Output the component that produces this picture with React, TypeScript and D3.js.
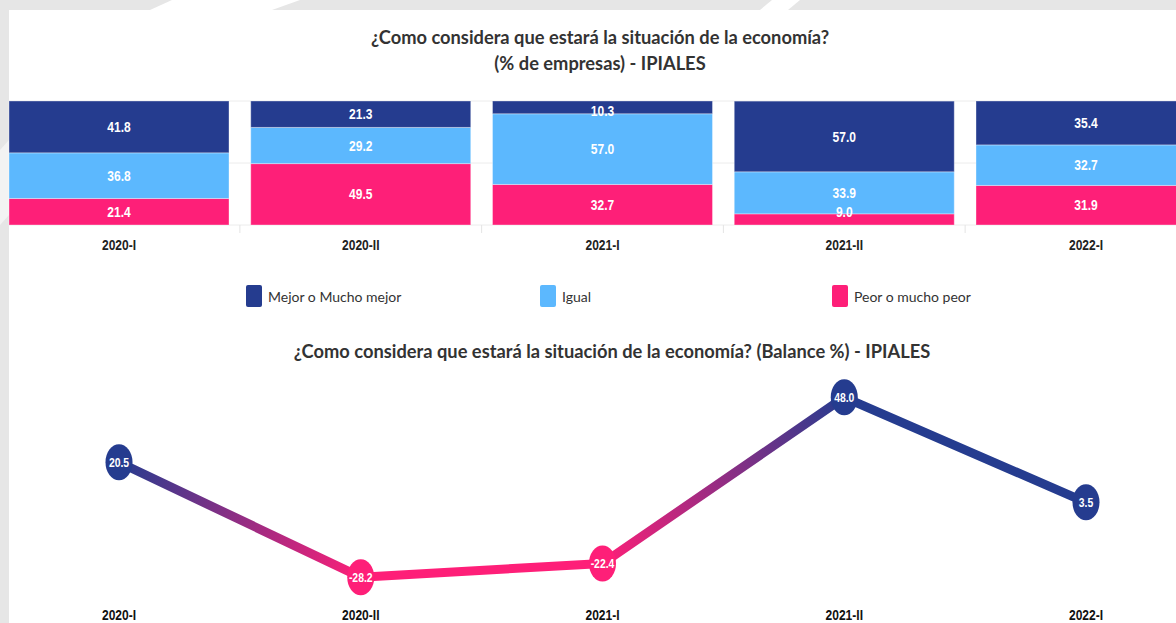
import React from "react";
import * as d3 from "d3";

const categories = ["2020-I", "2020-II", "2021-I", "2021-II", "2022-I"];
const mejor = [41.8, 21.3, 10.3, 57.0, 35.4];
const igual = [36.8, 29.2, 57.0, 33.9, 32.7];
const peor = [21.4, 49.5, 32.7, 9.0, 31.9];
const balance = [20.5, -28.2, -22.4, 48.0, 3.5];
const seriesNames = ["Mejor o Mucho mejor", "Igual", "Peor o mucho peor"];

const W = 1176;
const H = 623;
const C_DARK = "#253c8f";
const C_LIGHT = "#5cb8fe";
const C_PINK = "#fe1f78";
const NUM_FONT = "'Liberation Sans', Arial, sans-serif";
const TITLE_FONT = "Lato, 'Open Sans', sans-serif";

function NarrowText(props: {
  x: number;
  y: number;
  size: number;
  sx: number;
  fill: string;
  children: React.ReactNode;
}) {
  return (
    <text
      transform={`translate(${props.x},${props.y}) scale(${props.sx},1)`}
      dy="0.36em"
      textAnchor="middle"
      fontFamily={NUM_FONT}
      fontSize={props.size}
      fontWeight={700}
      fill={props.fill}
    >
      {props.children}
    </text>
  );
}

export default function App() {
  const x = d3
    .scaleBand<string>()
    .domain(categories)
    .range([9, 1196])
    .paddingInner(0.09)
    .paddingOuter(0);
  const bw = x.bandwidth();
  const cx = (c: string) => (x(c) as number) + bw / 2;

  const yBar = d3.scaleLinear().domain([0, 100]).range([225, 101]);

  const table = categories.map((c, i) => ({ cat: c, peor: peor[i], igual: igual[i], mejor: mejor[i] }));
  const keys = ["peor", "igual", "mejor"];
  const colors: Record<string, string> = { mejor: C_DARK, igual: C_LIGHT, peor: C_PINK };
  const stacked = d3.stack<any>().keys(keys)(table);

  const yLine = d3.scaleLinear().domain([-40, 60]).range([605, 369]);
  const pts = categories.map((c, i) => ({ x: cx(c), y: yLine(balance[i]), v: balance[i] }));
  const ptColor = (v: number) => (v >= 0 ? C_DARK : C_PINK);
  const fmt0 = d3.format(".1f");
  const fmt = (v: number) => fmt0(v).replace("\u2212", "-");

  const legendItems = [
    { name: seriesNames[0], color: C_DARK, x: 246 },
    { name: seriesNames[1], color: C_LIGHT, x: 540 },
    { name: seriesNames[2], color: C_PINK, x: 832 },
  ];

  const gapTicks = categories.slice(1).map((c) => (x(c) as number) - (x.step() - bw) / 2);

  return (
    <svg
      width={W}
      height={H}
      style={{ position: "absolute", left: 0, top: 0, display: "block" }}
    >
      <defs>
        {pts.slice(0, -1).map((p, i) => {
          const q = pts[i + 1];
          return (
            <linearGradient
              key={i}
              id={`seg${i}`}
              gradientUnits="userSpaceOnUse"
              x1={p.x}
              y1={p.y}
              x2={q.x}
              y2={q.y}
            >
              <stop offset="0" stopColor={ptColor(p.v)} />
              <stop offset="1" stopColor={ptColor(q.v)} />
            </linearGradient>
          );
        })}
      </defs>
      {/* background */}
      <rect x={0} y={0} width={W} height={H} fill="#e6e6e6" />
      <polygon points="150,10 172,0 300,0 272,10" fill="#ffffff" />
      <polygon points="760,10 772,0 800,0 788,10" fill="#ffffff" />
      <polygon points="0,150 9,140 9,215 0,225" fill="#f3f3f3" />
      <rect x={9} y={10} width={W - 9} height={H - 10} fill="#ffffff" />

      {/* title 1 */}
      <text x={600} y={44} textAnchor="middle" fontFamily={TITLE_FONT} fontSize={18.3} fontWeight={700} fill="#333">
        ¿Como considera que estará la situación de la economía?
      </text>
      <text x={600} y={70} textAnchor="middle" fontFamily={TITLE_FONT} fontSize={18.3} fontWeight={700} fill="#333">
        (% de empresas) - IPIALES
      </text>

      {/* grid */}
      {[0, 50, 100].map((t) => (
        <line key={t} x1={9} x2={W} y1={yBar(t)} y2={yBar(t)} stroke="#ececec" strokeWidth={1} />
      ))}
      {gapTicks.map((gx, i) => (
        <line key={i} x1={gx} x2={gx} y1={225} y2={233} stroke="#e4e4e4" strokeWidth={1} />
      ))}

      {/* bars */}
      {stacked.map((layer) => (
        <g key={layer.key}>
          {layer.map((d: any, i: number) => (
            <rect
              key={i}
              x={x(categories[i])}
              y={yBar(d[1])}
              width={bw}
              height={yBar(d[0]) - yBar(d[1])}
              fill={colors[layer.key]}
              stroke="rgba(255,255,255,0.35)"
              strokeWidth={1}
            />
          ))}
        </g>
      ))}
      {stacked.map((layer) => (
        <g key={"l" + layer.key}>
          {layer.map((d: any, i: number) => {
            const mid = (yBar(d[0]) + yBar(d[1])) / 2;
            const yy = Math.max(111, Math.min(212, mid));
            return (
              <NarrowText key={i} x={cx(categories[i])} y={yy} size={14} sx={0.86} fill="#ffffff">
                {fmt(d[1] - d[0])}
              </NarrowText>
            );
          })}
        </g>
      ))}
      {categories.map((c) => (
        <NarrowText key={c} x={cx(c)} y={245} size={14} sx={0.86} fill="#222">
          {c}
        </NarrowText>
      ))}

      {/* legend */}
      {legendItems.map((l) => (
        <g key={l.name}>
          <rect x={l.x} y={285} width={16} height={22} rx={2} fill={l.color} />
          <text x={l.x + 22} y={297} dy="0.36em" fontFamily={TITLE_FONT} fontSize={14} fill="#333">
            {l.name}
          </text>
        </g>
      ))}

      {/* title 2 */}
      <text x={612} y={358} textAnchor="middle" fontFamily={TITLE_FONT} fontSize={18.3} fontWeight={700} fill="#333">
        ¿Como considera que estará la situación de la economía? (Balance %) - IPIALES
      </text>

      {/* line */}
      {pts.slice(0, -1).map((p, i) => {
        const q = pts[i + 1];
        return (
          <line
            key={i}
            x1={p.x}
            y1={p.y}
            x2={q.x}
            y2={q.y}
            stroke={`url(#seg${i})`}
            strokeWidth={9}
            strokeLinecap="round"
          />
        );
      })}
      {pts.map((p, i) => (
        <g key={i}>
          <ellipse cx={p.x} cy={p.y} rx={13.5} ry={18} fill={ptColor(p.v)} />
          <NarrowText x={p.x} y={p.y} size={13} sx={0.8} fill="#ffffff">
            {fmt(p.v)}
          </NarrowText>
        </g>
      ))}
      {categories.map((c) => (
        <NarrowText key={"x" + c} x={cx(c)} y={615} size={14} sx={0.86} fill="#111">
          {c}
        </NarrowText>
      ))}
    </svg>
  );
}
